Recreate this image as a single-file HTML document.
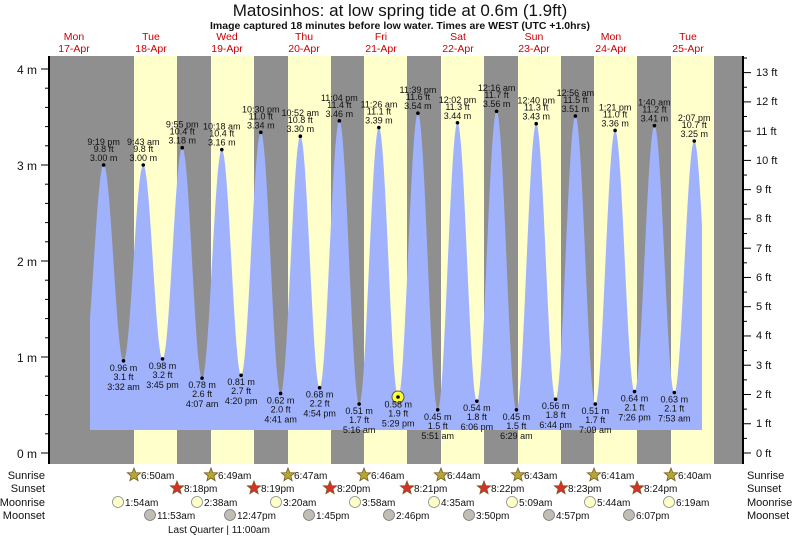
<!DOCTYPE html>
<html><head><meta charset="utf-8"><style>
body{margin:0;background:#fff;}
svg{display:block;font-family:"Liberation Sans",sans-serif;}
.l text{font-size:9px;fill:#111;text-anchor:middle;}
.r{font-size:11px;fill:#111;}
</style></head><body>
<svg width="793" height="537" viewBox="0 0 793 537">
<text x="400" y="16" font-size="17" text-anchor="middle" fill="#111">Matosinhos: at low  spring tide at 0.6m (1.9ft)</text>
<text x="400" y="29" font-size="10.5" font-weight="bold" text-anchor="middle" fill="#111">Image captured 18 minutes before low water. Times are WEST (UTC +1.0hrs)</text>
<g font-size="10.5" fill="#cc0000" text-anchor="middle">
<text x="74" y="40">Mon</text><text x="74" y="52">17-Apr</text>
<text x="151" y="40">Tue</text><text x="151" y="52">18-Apr</text>
<text x="227" y="40">Wed</text><text x="227" y="52">19-Apr</text>
<text x="304" y="40">Thu</text><text x="304" y="52">20-Apr</text>
<text x="381" y="40">Fri</text><text x="381" y="52">21-Apr</text>
<text x="458" y="40">Sat</text><text x="458" y="52">22-Apr</text>
<text x="534" y="40">Sun</text><text x="534" y="52">23-Apr</text>
<text x="611" y="40">Mon</text><text x="611" y="52">24-Apr</text>
<text x="688" y="40">Tue</text><text x="688" y="52">25-Apr</text>
</g>
<rect x="50" y="56" width="693" height="408" fill="#8f8f8f"/>
<g fill="#ffffcc">
<rect x="134" y="56" width="43" height="408"/><rect x="211" y="56" width="43" height="408"/>
<rect x="288" y="56" width="43" height="408"/><rect x="364" y="56" width="43" height="408"/>
<rect x="441" y="56" width="43" height="408"/><rect x="518" y="56" width="43" height="408"/>
<rect x="594" y="56" width="43" height="408"/><rect x="671" y="56" width="43" height="408"/>
</g>
<path id="tide" fill="#a0b2fc" d=""/>
<line x1="49" y1="56" x2="49" y2="464" stroke="#000" stroke-width="2"/>
<line x1="743" y1="56" x2="743" y2="464" stroke="#000" stroke-width="2"/>
<g id="ticks" stroke="#000" stroke-width="1"></g>
<g font-size="12" fill="#111" text-anchor="end">
<text x="37" y="74">4 m</text><text x="37" y="170">3 m</text><text x="37" y="266">2 m</text><text x="37" y="362">1 m</text><text x="37" y="458">0 m</text>
</g>
<g font-size="11" fill="#111" id="ftlab"></g>
<g id="dots" fill="#000"></g>
<circle cx="398" cy="397" r="6" fill="#ffff33" stroke="#555" stroke-width="1"/>
<circle cx="398" cy="397" r="1.8" fill="#000"/>
<g class="l">
<g transform="translate(103.6,165)"><text y="-20">9:19 pm</text><text y="-13">9.8 ft</text><text y="-4">3.00 m</text></g>
<g transform="translate(143.3,165)"><text y="-20">9:43 am</text><text y="-13">9.8 ft</text><text y="-4">3.00 m</text></g>
<g transform="translate(182.2,147.7)"><text y="-20">9:55 pm</text><text y="-13">10.4 ft</text><text y="-4">3.18 m</text></g>
<g transform="translate(221.8,149.6)"><text y="-20">10:18 am</text><text y="-13">10.4 ft</text><text y="-4">3.16 m</text></g>
<g transform="translate(260.8,132.4)"><text y="-20">10:30 pm</text><text y="-13">11.0 ft</text><text y="-4">3.34 m</text></g>
<g transform="translate(300.3,136.2)"><text y="-20">10:52 am</text><text y="-13">10.8 ft</text><text y="-4">3.30 m</text></g>
<g transform="translate(339.3,120.8)"><text y="-20">11:04 pm</text><text y="-13">11.4 ft</text><text y="-4">3.46 m</text></g>
<g transform="translate(378.9,127.6)"><text y="-20">11:26 am</text><text y="-13">11.1 ft</text><text y="-4">3.39 m</text></g>
<g transform="translate(417.9,113.2)"><text y="-20">11:39 pm</text><text y="-13">11.6 ft</text><text y="-4">3.54 m</text></g>
<g transform="translate(457.5,122.8)"><text y="-20">12:02 pm</text><text y="-13">11.3 ft</text><text y="-4">3.44 m</text></g>
<g transform="translate(496.6,111.2)"><text y="-20">12:16 am</text><text y="-13">11.7 ft</text><text y="-4">3.56 m</text></g>
<g transform="translate(536.2,123.7)"><text y="-20">12:40 pm</text><text y="-13">11.3 ft</text><text y="-4">3.43 m</text></g>
<g transform="translate(575.4,116)"><text y="-20">12:56 am</text><text y="-13">11.5 ft</text><text y="-4">3.51 m</text></g>
<g transform="translate(615.1,130.4)"><text y="-20">1:21 pm</text><text y="-13">11.0 ft</text><text y="-4">3.36 m</text></g>
<g transform="translate(654.4,125.6)"><text y="-20">1:40 am</text><text y="-13">11.2 ft</text><text y="-4">3.41 m</text></g>
<g transform="translate(694.2,141)"><text y="-20">2:07 pm</text><text y="-13">10.7 ft</text><text y="-4">3.25 m</text></g>

<g transform="translate(123.5,360.8)"><text y="10">0.96 m</text><text y="19">3.1 ft</text><text y="29">3:32 am</text></g>
<g transform="translate(162.5,358.9)"><text y="10">0.98 m</text><text y="19">3.2 ft</text><text y="29">3:45 pm</text></g>
<g transform="translate(202.1,378.1)"><text y="10">0.78 m</text><text y="19">2.6 ft</text><text y="29">4:07 am</text></g>
<g transform="translate(241.1,375.2)"><text y="10">0.81 m</text><text y="19">2.7 ft</text><text y="29">4:20 pm</text></g>
<g transform="translate(280.6,393.5)"><text y="10">0.62 m</text><text y="19">2.0 ft</text><text y="29">4:41 am</text></g>
<g transform="translate(319.6,387.7)"><text y="10">0.68 m</text><text y="19">2.2 ft</text><text y="29">4:54 pm</text></g>
<g transform="translate(359.1,404)"><text y="10">0.51 m</text><text y="19">1.7 ft</text><text y="29">5:16 am</text></g>
<g transform="translate(398.2,397.3)"><text y="10">0.58 m</text><text y="19">1.9 ft</text><text y="29">5:29 pm</text></g>
<g transform="translate(437.7,409.8)"><text y="10">0.45 m</text><text y="19">1.5 ft</text><text y="29">5:51 am</text></g>
<g transform="translate(476.9,401.2)"><text y="10">0.54 m</text><text y="19">1.8 ft</text><text y="29">6:06 pm</text></g>
<g transform="translate(516.4,409.8)"><text y="10">0.45 m</text><text y="19">1.5 ft</text><text y="29">6:29 am</text></g>
<g transform="translate(555.6,399.2)"><text y="10">0.56 m</text><text y="19">1.8 ft</text><text y="29">6:44 pm</text></g>
<g transform="translate(595.3,404)"><text y="10">0.51 m</text><text y="19">1.7 ft</text><text y="29">7:09 am</text></g>
<g transform="translate(634.5,391.6)"><text y="10">0.64 m</text><text y="19">2.1 ft</text><text y="29">7:26 pm</text></g>
<g transform="translate(674.3,392.5)"><text y="10">0.63 m</text><text y="19">2.1 ft</text><text y="29">7:53 am</text></g>
</g>

<g class="r" text-anchor="end">
<text x="45" y="479">Sunrise</text><text x="45" y="492">Sunset</text><text x="45" y="506">Moonrise</text><text x="45" y="519">Moonset</text>
</g>
<g class="r">
<text x="747" y="479">Sunrise</text><text x="747" y="492">Sunset</text><text x="747" y="506">Moonrise</text><text x="747" y="519">Moonset</text>
</g>
<g id="icons"></g>
<g font-size="10" fill="#111">
<text x="141" y="479">6:50am</text><text x="218" y="479">6:49am</text><text x="294" y="479">6:47am</text><text x="371" y="479">6:46am</text>
<text x="447" y="479">6:44am</text><text x="524" y="479">6:43am</text><text x="601" y="479">6:41am</text><text x="678" y="479">6:40am</text>
<text x="184" y="492">8:18pm</text><text x="261" y="492">8:19pm</text><text x="337" y="492">8:20pm</text><text x="414" y="492">8:21pm</text>
<text x="491" y="492">8:22pm</text><text x="568" y="492">8:23pm</text><text x="644" y="492">8:24pm</text>
<text x="125" y="506">1:54am</text><text x="204" y="506">2:38am</text><text x="283" y="506">3:20am</text><text x="362" y="506">3:58am</text>
<text x="441" y="506">4:35am</text><text x="519" y="506">5:09am</text><text x="597" y="506">5:44am</text><text x="676" y="506">6:19am</text>
<text x="157" y="519">11:53am</text><text x="237" y="519">12:47pm</text><text x="316" y="519">1:45pm</text><text x="396" y="519">2:46pm</text>
<text x="476" y="519">3:50pm</text><text x="556" y="519">4:57pm</text><text x="636" y="519">6:07pm</text>
<text x="168" y="533">Last Quarter | 11:00am</text>
</g>
</svg>
<script>
var ex=[[-8.9,0.95],[-2.683,3.00],[3.533,0.96],[9.717,3.00],[15.75,0.98],[21.917,3.18],[28.117,0.78],[34.3,3.16],[40.333,0.81],[46.5,3.34],[52.683,0.62],[58.867,3.30],[64.9,0.68],[71.067,3.46],[77.267,0.51],[83.433,3.39],[89.483,0.58],[95.65,3.54],[101.85,0.45],[108.033,3.44],[114.1,0.54],[120.267,3.56],[126.483,0.45],[132.667,3.43],[138.733,0.56],[144.933,3.51],[151.15,0.51],[157.35,3.36],[163.433,0.64],[169.667,3.41],[175.883,0.63],[182.117,3.25],[188.3,0.62]];
function X(t){return 112.2+3.196*t;}function Y(h){return 453-96*h;}
function H(t){for(var i=0;i<ex.length-1;i++){var a=ex[i],b=ex[i+1];if(t>=a[0]&&t<=b[0]){var f=(t-a[0])/(b[0]-a[0]);return a[1]+(b[1]-a[1])*(1-Math.cos(Math.PI*f))/2;}}return 1;}
var d="M90,430";for(var x=90;x<=702;x+=0.5){var t=(x-112.2)/3.196;d+=" L"+x+","+Y(H(t)).toFixed(1);}d+=" L702,430 Z";
document.getElementById('tide').setAttribute('d',d);
var NS="http://www.w3.org/2000/svg";
function el(p,n,a){var e=document.createElementNS(NS,n);for(var k in a)e.setAttribute(k,a[k]);p.appendChild(e);return e;}
var dots=document.getElementById('dots');
for(var i=1;i<ex.length-1;i++){el(dots,'circle',{cx:X(ex[i][0]),cy:Y(ex[i][1]),r:1.8});}
var tk=document.getElementById('ticks');
for(var m=0;m<=4.01;m+=0.2){var y=Y(m);var maj=Math.abs(m-Math.round(m))<0.01;el(tk,'line',{x1:maj?41:45,x2:49,y1:y,y2:y});}
for(var f=0;f<=13.5;f+=0.5){var y=453-29.26*f;var maj=Math.abs(f-Math.round(f))<0.01;el(tk,'line',{x1:743,x2:maj?751:747,y1:y,y2:y});}
var icons=document.getElementById('icons');
function star(cx,cy,fill){var p="";for(var k=0;k<10;k++){var r=k%2?3:7,a=-Math.PI/2+k*Math.PI/5;p+=(cx+r*Math.cos(a)).toFixed(1)+","+(cy+r*Math.sin(a)).toFixed(1)+" ";}el(icons,'polygon',{points:p,fill:fill,stroke:'#7a5a20','stroke-width':0.8});}
[134,211,288,364,441,518,594,671].forEach(function(x){star(x,475,'#b5a832');});
[177,254,330,407,484,561,637].forEach(function(x){star(x,488,'#d8302a');});
[118,197,276,355,434,512,590,669].forEach(function(x){el(icons,'circle',{cx:x,cy:502,r:5.5,fill:'#ffffc8',stroke:'#888','stroke-width':0.8});});
[150,230,309,389,469,549,629].forEach(function(x){el(icons,'circle',{cx:x,cy:515,r:5.5,fill:'#c0bdb5',stroke:'#777','stroke-width':0.8});});
</script>
<script>
var g=document.getElementById('ftlab');
</script>
<svg width="0" height="0"></svg>
<div style="position:absolute;left:0;top:0;width:793px;height:537px;pointer-events:none">
<svg width="793" height="537" style="position:absolute;left:0;top:0">
<g font-family="Liberation Sans, sans-serif" font-size="11" fill="#111">
<text x="756" y="76">13 ft</text><text x="756" y="105">12 ft</text><text x="756" y="135">11 ft</text><text x="756" y="164">10 ft</text>
<text x="756" y="193">9 ft</text><text x="756" y="222">8 ft</text><text x="756" y="252">7 ft</text><text x="756" y="281">6 ft</text>
<text x="756" y="310">5 ft</text><text x="756" y="339">4 ft</text><text x="756" y="369">3 ft</text><text x="756" y="398">2 ft</text>
<text x="756" y="427">1 ft</text><text x="756" y="457">0 ft</text>
</g></svg></div>
</body></html>
